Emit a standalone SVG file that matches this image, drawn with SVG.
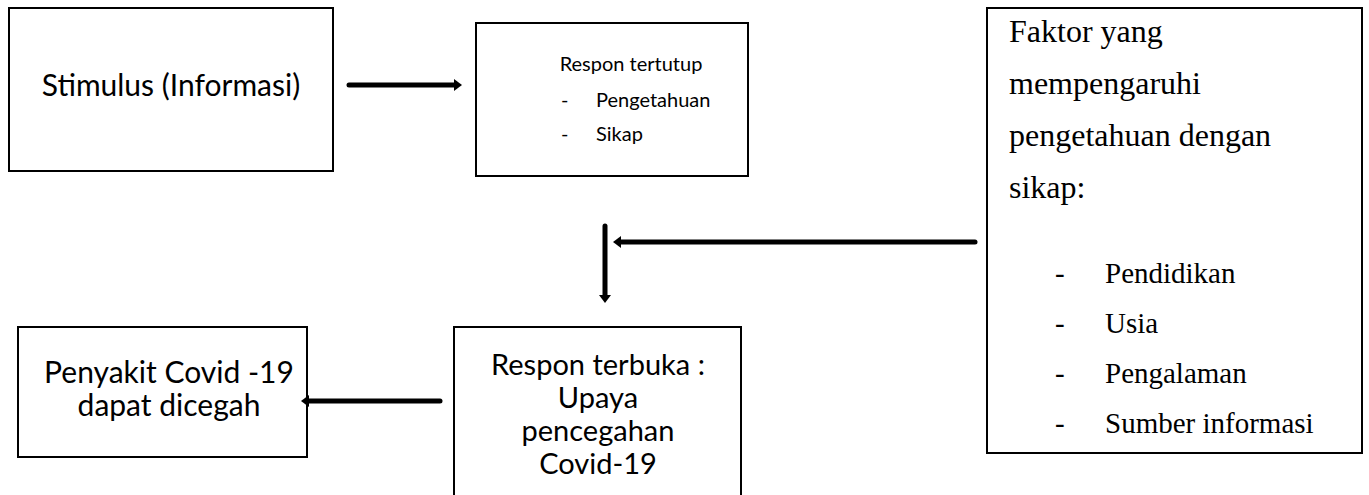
<svg xmlns="http://www.w3.org/2000/svg" width="1369" height="495" viewBox="0 0 1369 495">
<style>
.box{fill:#fff;stroke:#000;stroke-width:2}
.sans{font-family:Lato,"Open Sans","Liberation Sans",sans-serif;fill:#000}
.big{font-size:30px}
.mid{font-size:29px}
.small{font-size:20px}
.serif{font-family:"Liberation Serif","Times New Roman",serif;fill:#000}
.s1{font-size:32px}
.s2{font-size:29px}
.conn{stroke:#000;stroke-width:5;fill:none;stroke-linecap:round}
</style>
<defs>
<marker id="ah" markerUnits="userSpaceOnUse" markerWidth="10" markerHeight="12" refX="2" refY="6" orient="auto">
<path d="M0,0 L8,6 L0,12 Z" fill="#000"/>
</marker>
</defs>
<rect width="1369" height="495" fill="#fff"/>
<g id="stimulus">
<rect class="box" x="9" y="8" width="324" height="163"/>
<text class="sans big" x="171" y="96" text-anchor="middle">Stimulus (Informasi)</text>
</g>
<g id="respon-tertutup">
<rect class="box" x="476" y="23" width="272" height="153"/>
<text class="sans small" x="631" y="71" text-anchor="middle">Respon tertutup</text>
<text class="sans small" x="561" y="107">-</text>
<text class="sans small" x="596" y="107">Pengetahuan</text>
<text class="sans small" x="561" y="141">-</text>
<text class="sans small" x="596" y="141">Sikap</text>
</g>
<g id="faktor">
<rect class="box" x="987" y="8" width="375" height="445"/>
<text class="serif s1" x="1009" y="42">Faktor yang</text>
<text class="serif s1" x="1009" y="94">mempengaruhi</text>
<text class="serif s1" x="1009" y="146">pengetahuan dengan</text>
<text class="serif s1" x="1009" y="198">sikap:</text>
<text class="serif s2" x="1055" y="283">-</text>
<text class="serif s2" x="1105" y="283">Pendidikan</text>
<text class="serif s2" x="1055" y="333">-</text>
<text class="serif s2" x="1105" y="333">Usia</text>
<text class="serif s2" x="1055" y="383">-</text>
<text class="serif s2" x="1105" y="383">Pengalaman</text>
<text class="serif s2" x="1055" y="433">-</text>
<text class="serif s2" x="1105" y="433">Sumber informasi</text>
</g>
<g id="respon-terbuka">
<rect class="box" x="454" y="327" width="287" height="175"/>
<text class="sans mid" x="598" y="375" text-anchor="middle">Respon terbuka :</text>
<text class="sans mid" x="598" y="408" text-anchor="middle">Upaya</text>
<text class="sans mid" x="598" y="441" text-anchor="middle">pencegahan</text>
<text class="sans mid" x="598" y="474" text-anchor="middle">Covid-19</text>
</g>
<g id="penyakit">
<rect class="box" x="18" y="327" width="289" height="130"/>
<text class="sans big" x="169" y="383" text-anchor="middle">Penyakit Covid -19</text>
<text class="sans big" x="169" y="416" text-anchor="middle">dapat dicegah</text>
</g>
<g id="connectors">
<path class="conn" d="M349,85 H456" marker-end="url(#ah)"/>
<path class="conn" d="M975,242 H619" marker-end="url(#ah)"/>
<path class="conn" d="M605,226 V297" marker-end="url(#ah)"/>
<path class="conn" d="M440,401 H307" marker-end="url(#ah)"/>
</g>
</svg>
